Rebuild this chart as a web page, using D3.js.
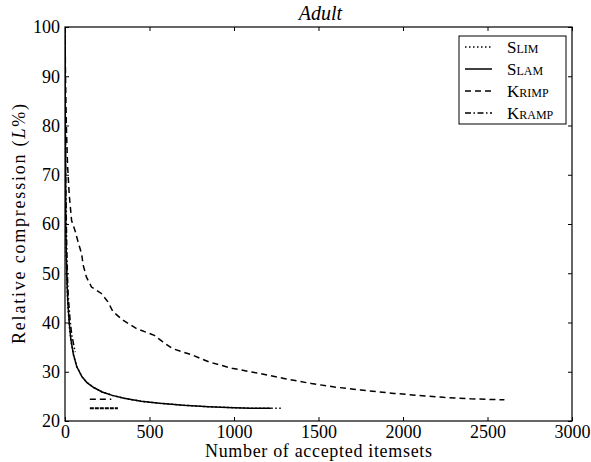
<!DOCTYPE html>
<html>
<head>
<meta charset="utf-8">
<script src="https://cdn.jsdelivr.net/npm/d3@7"></script>
<style>
body { margin: 0; background: #fff; }
svg text { font-family: "Liberation Serif", "DejaVu Serif", serif; fill: #000; }
</style>
</head>
<body>
<svg id="chart" width="591" height="462"></svg>
<script>
// tick labels
var xTicks = [0, 500, 1000, 1500, 2000, 2500, 3000];
var yTicks = [20, 30, 40, 50, 60, 70, 80, 90, 100];

// series
var slimX = [0, 1, 3, 5, 8, 12, 17, 25, 35, 50, 70, 100, 130, 170, 220, 280, 350, 450, 560, 700, 850, 1000, 1100, 1220, 1290];
var slimY = [100, 84, 69, 59, 52.5, 47.5, 43.5, 39.5, 36.3, 33.4, 31, 29, 27.8, 26.8, 25.9, 25.2, 24.6, 24, 23.6, 23.2, 22.9, 22.7, 22.6, 22.6, 22.6];
var slamX = [0, 1, 3, 5, 8, 12, 17, 25, 35, 50, 70, 100, 130, 170, 220, 280, 350, 450, 560, 700, 850, 1000, 1100, 1220];
var slamY = [100, 85, 70, 60, 53, 48, 44, 40, 36.5, 33.5, 31, 29, 27.8, 26.8, 25.9, 25.2, 24.6, 24, 23.6, 23.2, 22.9, 22.7, 22.6, 22.6];
var krimpX = [0, 3, 8, 15, 25, 39, 59, 78, 98, 108, 127, 157, 215, 254, 284, 342, 421, 528, 577, 636, 753, 851, 988, 1145, 1302, 1458, 1595, 1750, 1947, 2240, 2400, 2600];
var krimpY = [100, 90, 80, 72, 66, 60.7, 58.7, 56.3, 54, 51.6, 49.2, 47.2, 45.9, 44.2, 42.2, 40.5, 38.8, 37.4, 36.1, 34.7, 33.4, 32, 30.7, 29.7, 28.6, 27.6, 26.9, 26.3, 25.6, 24.8, 24.5, 24.3];
var krampX = [0, 2, 5, 10, 15, 20, 30, 40, 60];
var krampY = [100, 82, 67, 56, 49, 45, 40.5, 37.5, 34];
// short flat pieces near the bottom
var krimpFlatX = [147, 274];
var krimpFlatY = [24.4, 24.4];
var krampFlatX = [147, 313];
var krampFlatY = [22.6, 22.6];

var names = ["Slim", "Slam", "Krimp", "Kramp"];
var dashes = ["1.5,2.5", null, "6,4", "6,2.5,1.5,2.5"];

var svg = d3.select("#chart");
var mLeft = 65, mRight = 572, mTop = 27, mBottom = 421;

var x = d3.scaleLinear().domain([0, 3000]).range([mLeft, mRight]);
var y = d3.scaleLinear().domain([20, 100]).range([mBottom, mTop]);

function zip(xs, ys) { return xs.map(function(d, i) { return [d, ys[i]]; }); }

var line = d3.line()
    .x(function(d) { return x(d[0]); })
    .y(function(d) { return y(d[1]); });

var series = [
    {data: zip(slimX, slimY), dash: dashes[0], w: 1.5},
    {data: zip(krimpX, krimpY), dash: dashes[2], w: 1.5},
    {data: zip(krampX, krampY), dash: dashes[3], w: 1.5},
    {data: zip(slamX, slamY), dash: dashes[1], w: 1.5},
    {data: zip(krimpFlatX, krimpFlatY), dash: dashes[2], w: 1.5},
    {data: zip(krampFlatX, krampFlatY), dash: "4,1", w: 2}
];

svg.append("clipPath").attr("id", "clip")
    .append("rect").attr("x", mLeft).attr("y", mTop)
    .attr("width", mRight - mLeft).attr("height", mBottom - mTop);

svg.append("g").attr("clip-path", "url(#clip)")
    .selectAll("path")
    .data(series)
    .enter().append("path")
    .attr("d", function(d) { return line(d.data); })
    .attr("fill", "none")
    .attr("stroke", "#000")
    .attr("stroke-width", function(d) { return d.w; })
    .attr("stroke-dasharray", function(d) { return d.dash; });

// axes, matplotlib style: ticks inside on all four sides
svg.append("g")
    .attr("transform", "translate(0," + mBottom + ")")
    .call(d3.axisBottom(x).tickValues(xTicks).tickFormat(d3.format("d")).tickSizeInner(-4).tickSizeOuter(0).tickPadding(4))
    .call(function(g) { g.select(".domain").remove(); })
    .selectAll("text").style("font-size", "18px");
svg.append("g")
    .attr("transform", "translate(0," + mTop + ")")
    .call(d3.axisTop(x).tickValues(xTicks).tickSizeInner(-4).tickSizeOuter(0).tickFormat(""))
    .call(function(g) { g.select(".domain").remove(); });
svg.append("g")
    .attr("transform", "translate(" + mLeft + ",0)")
    .call(d3.axisLeft(y).tickValues(yTicks).tickSizeInner(-4).tickSizeOuter(0).tickPadding(5))
    .call(function(g) { g.select(".domain").remove(); })
    .selectAll("text").style("font-size", "18px");
svg.append("g")
    .attr("transform", "translate(" + mRight + ",0)")
    .call(d3.axisRight(y).tickValues(yTicks).tickSizeInner(-4).tickSizeOuter(0).tickFormat(""))
    .call(function(g) { g.select(".domain").remove(); });

svg.selectAll(".tick line").attr("stroke", "#000");

svg.append("rect")
    .attr("x", mLeft).attr("y", mTop)
    .attr("width", mRight - mLeft).attr("height", mBottom - mTop)
    .attr("fill", "none").attr("stroke", "#000").attr("stroke-width", 1.2);

// titles
svg.append("text")
    .attr("x", (mLeft + mRight) / 2 + 2).attr("y", 20)
    .attr("text-anchor", "middle")
    .style("font-size", "20px").style("font-style", "italic")
    .text("Adult");
svg.append("text")
    .attr("x", (mLeft + mRight) / 2).attr("y", 457)
    .attr("text-anchor", "middle")
    .attr("textLength", 227)
    .style("font-size", "18px")
    .text("Number of accepted itemsets");
svg.append("text")
    .attr("transform", "translate(25," + (mTop + mBottom) / 2 + ") rotate(-90)")
    .attr("text-anchor", "middle")
    .attr("textLength", 240)
    .style("font-size", "18px")
    .html("Relative compression (<tspan font-style='italic'>L</tspan>%)");

// legend
var lg = svg.append("g").attr("transform", "translate(459,36)");
lg.append("rect").attr("width", 107).attr("height", 88)
    .attr("fill", "#fff").attr("stroke", "#000").attr("stroke-width", 1);
var rows = lg.selectAll(".row").data(names).enter().append("g")
    .attr("transform", function(d, i) { return "translate(0," + (11 + i * 22) + ")"; });
rows.append("line")
    .attr("x1", 6).attr("x2", 33)
    .attr("stroke", "#000").attr("stroke-width", 1.5)
    .attr("stroke-dasharray", function(d, i) { return dashes[i]; });
rows.append("text")
    .attr("x", 48).attr("dy", "0.35em")
    .style("font-size", "17px").style("font-variant", "small-caps")
    .text(function(d) { return d; });
</script>
</body>
</html>
